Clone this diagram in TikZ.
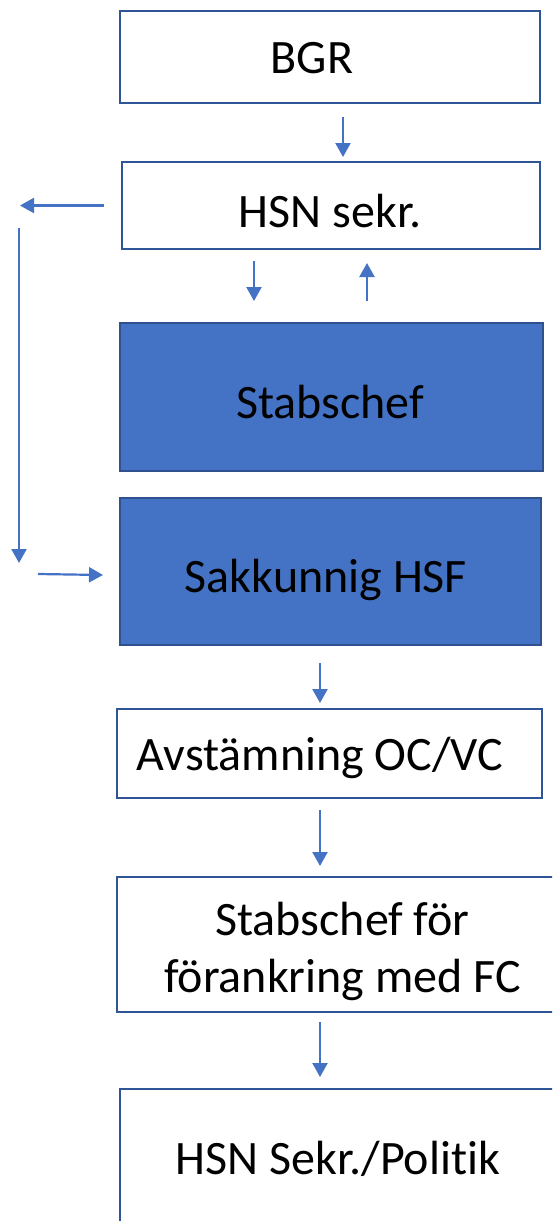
\documentclass[tikz,border=0pt]{standalone}
\usepackage{fontspec}
\setmainfont{Carlito}[Ligatures={NoCommon}]
\usetikzlibrary{arrows.meta}
\definecolor{boxblue}{HTML}{2F5597}
\definecolor{fillblue}{HTML}{4472C4}
\definecolor{fillborder}{HTML}{2F528F}
\definecolor{arrowblue}{HTML}{4472C4}
\tikzset{
  box/.style={draw=boxblue, line width=2.5pt, fill=white, inner sep=0pt, outer sep=0pt},
  filledbox/.style={draw=fillborder, line width=2pt, fill=fillblue, inner sep=0pt, outer sep=0pt},
  txt/.style={font=\fontsize{48}{58}\selectfont, text=black, text height=31pt, text depth=0pt, inner sep=0pt},
  flow/.style={draw=arrowblue, line width=2.2pt, -{Triangle[length=14pt,width=15pt]}},
}
\begin{document}
\begin{tikzpicture}[x=1pt,y=-1pt]
\useasboundingbox (0,0) rectangle (552,1221);
\clip (0,0) rectangle (552,1221);
\fill[white] (0,0) rectangle (552,1221);

\node[box, minimum width=420pt, minimum height=92pt,
  label={[txt, xshift=-18pt, yshift=-1pt]center:BGR}] (bgr) at (330,57) {};
\node[box, minimum width=418pt, minimum height=87pt,
  label={[txt, xshift=-1pt, yshift=-6.5pt]center:HSN sekr.}] (hsn) at (331,205.5) {};
\node[filledbox, minimum width=423pt, minimum height=148pt,
  label={[txt, xshift=-1.5pt, yshift=-6pt]center:Stabschef}] (stab) at (331.5,397) {};
\node[filledbox, minimum width=421pt, minimum height=147pt,
  label={[txt, xshift=-4.5pt, yshift=-5.5pt]center:Sakkunnig HSF}] (sak) at (330.5,571.5) {};
\node[box, minimum width=425pt, minimum height=89pt,
  label={[txt, xshift=-9.5pt, yshift=-1.5pt]center:Avstämning OC/VC}] (avs) at (329.5,753.5) {};
\node[box, minimum width=452pt, minimum height=135pt,
  label={[txt, xshift=-0.5pt, yshift=24.5pt]center:Stabschef för},
  label={[txt, xshift=-0.5pt, yshift=-32.5pt]center:förankring med FC}] (fc) at (343,944.5) {};
\node[box, minimum width=436pt, minimum height=140pt,
  label={[txt]center:HSN Sekr./Politik}] (pol) at (338,1159) {};

% vertical flow arrows
\draw[flow] ([xshift=13pt,yshift=-14pt]bgr.south) -- ([xshift=12pt,yshift=5pt]hsn.north);
\draw[flow] ([xshift=-77pt,yshift=-12pt]hsn.south) -- ([xshift=-77.5pt,yshift=22pt]stab.north);
\draw[flow] ([xshift=35.5pt,yshift=22pt]stab.north) -- ([xshift=36pt,yshift=-14pt]hsn.south);
\draw[flow] ([xshift=-10.5pt,yshift=-18pt]sak.south) -- ([xshift=-9.5pt,yshift=6pt]avs.north);
\draw[flow] ([xshift=-9.5pt,yshift=-12pt]avs.south) -- ([xshift=-23pt,yshift=11pt]fc.north);
\draw[flow] ([xshift=-23pt,yshift=-10pt]fc.south) -- ([xshift=-18pt,yshift=12pt]pol.north);

% left side loop
\draw[flow] ([xshift=-18pt]hsn.west) -- ([xshift=-102pt]hsn.west);
\draw[flow] ([xshift=-103pt,yshift=-22.5pt]hsn.west) -- ([xshift=-101pt,yshift=8.5pt]sak.west);
\draw[flow] ([xshift=-82pt,yshift=-2.5pt]sak.west) -- ([xshift=-17pt,yshift=-3.5pt]sak.west);
\end{tikzpicture}
\end{document}
